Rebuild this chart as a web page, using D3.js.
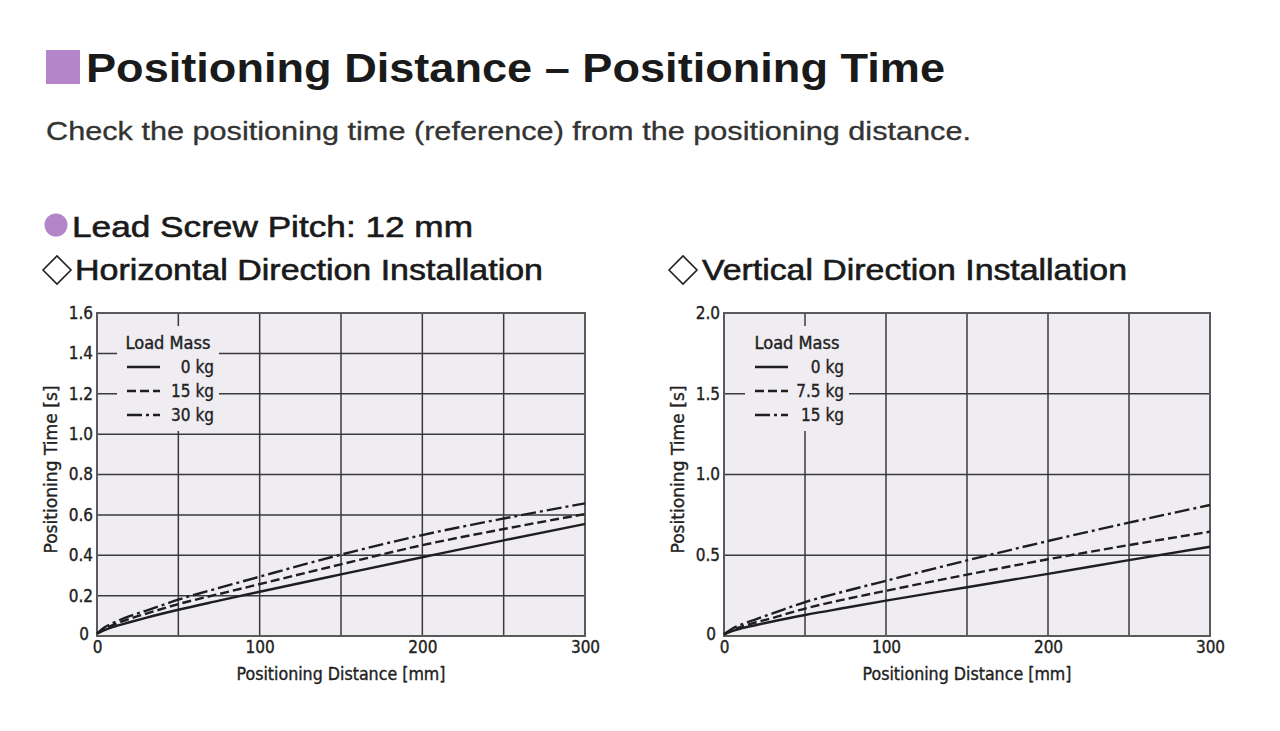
<!DOCTYPE html>
<html><head><meta charset="utf-8">
<script src="https://cdn.jsdelivr.net/npm/d3@7"></script>
<style>
body{margin:0;background:#fff;}
svg{display:block;}
.cond{font-family:"Liberation Sans Narrow","DejaVu Sans Condensed","Roboto Condensed",sans-serif;stroke:#222;stroke-width:0.35px;}
.main{font-family:"Liberation Sans",Arial,"Helvetica Neue",sans-serif;}
</style></head>
<body>
<svg id="chart" width="1280" height="731"></svg>
<script>
// ---- data ----
const distances = [0, 5, 10, 20, 30, 50, 75, 100, 150, 200, 250, 300];
const hLabels = ["0 kg", "15 kg", "30 kg"];
const h0  = [0.012, 0.030, 0.045, 0.068, 0.090, 0.130, 0.175, 0.219, 0.305, 0.390, 0.474, 0.555];
const h15 = [0.012, 0.038, 0.055, 0.085, 0.110, 0.158, 0.208, 0.257, 0.355, 0.450, 0.530, 0.604];
const h30 = [0.012, 0.045, 0.065, 0.098, 0.125, 0.180, 0.238, 0.294, 0.403, 0.500, 0.582, 0.657];
const vLabels = ["0 kg", "7.5 kg", "15 kg"];
const v0  = [0.010, 0.030, 0.045, 0.068, 0.090, 0.130, 0.175, 0.219, 0.302, 0.385, 0.470, 0.553];
const v75 = [0.010, 0.038, 0.055, 0.085, 0.112, 0.170, 0.228, 0.280, 0.380, 0.475, 0.563, 0.646];
const v15 = [0.010, 0.045, 0.068, 0.105, 0.140, 0.210, 0.278, 0.342, 0.468, 0.588, 0.702, 0.811];
const xTicks = [0, 100, 200, 300];
const xGrid = [50, 100, 150, 200, 250];
const hYTicks = [0, 0.2, 0.4, 0.6, 0.8, 1.0, 1.2, 1.4, 1.6];
const vYTicks = [0, 0.5, 1.0, 1.5, 2.0];

const svg = d3.select("#chart");
const purple = "#b485c8";

// ---- headings ----
svg.append("rect").attr("x",46).attr("y",50).attr("width",34).attr("height",34).attr("fill",purple);
svg.append("text").attr("class","main").attr("x",86).attr("y",82)
  .attr("font-size",41).attr("font-weight","bold").attr("fill","#1a1a1a")
  .attr("textLength",859).attr("lengthAdjust","spacingAndGlyphs")
  .text("Positioning Distance \u2013 Positioning Time");
svg.append("text").attr("class","main").attr("x",46).attr("y",140)
  .attr("font-size",25).attr("fill","#333").attr("stroke","#333").attr("stroke-width",0.3)
  .attr("textLength",925).attr("lengthAdjust","spacingAndGlyphs")
  .text("Check the positioning time (reference) from the positioning distance.");
svg.append("circle").attr("cx",56).attr("cy",225).attr("r",11.5).attr("fill",purple);
svg.append("text").attr("class","main").attr("x",72).attr("y",237)
  .attr("font-size",30).attr("fill","#1a1a1a").attr("stroke","#1a1a1a").attr("stroke-width",0.6)
  .attr("textLength",401).attr("lengthAdjust","spacingAndGlyphs")
  .text("Lead Screw Pitch: 12 mm");

function diamond(cx, cy){
  svg.append("path").attr("d",`M${cx-14},${cy} L${cx},${cy-14} L${cx+14},${cy} L${cx},${cy+14} Z`)
    .attr("fill","none").attr("stroke","#222").attr("stroke-width",1.6);
}
diamond(57,270);
svg.append("text").attr("class","main").attr("x",75).attr("y",280)
  .attr("font-size",29).attr("fill","#1a1a1a").attr("stroke","#1a1a1a").attr("stroke-width",0.6)
  .attr("textLength",468).attr("lengthAdjust","spacingAndGlyphs")
  .text("Horizontal Direction Installation");
diamond(683,270);
svg.append("text").attr("class","main").attr("x",702).attr("y",280)
  .attr("font-size",29).attr("fill","#1a1a1a").attr("stroke","#1a1a1a").attr("stroke-width",0.6)
  .attr("textLength",425).attr("lengthAdjust","spacingAndGlyphs")
  .text("Vertical Direction Installation");

// ---- chart builder ----
const dashes = [null, "9,4", "15,4,3,4"];

function drawChart(cfg){
  const g = svg.append("g");
  const x = d3.scaleLinear().domain([0,300]).range([cfg.x0, cfg.x1]);
  const y = d3.scaleLinear().domain([0,cfg.yMax]).range([cfg.y1, cfg.y0]);

  g.append("rect").attr("x",cfg.x0).attr("y",cfg.y0)
    .attr("width",cfg.x1-cfg.x0).attr("height",cfg.y1-cfg.y0).attr("fill","#efecf2");

  // grid
  const gridColor = "#3a3a3a";
  g.selectAll(".vg").data(xGrid).enter().append("line")
    .attr("x1",d=>x(d)).attr("x2",d=>x(d)).attr("y1",cfg.y0).attr("y2",cfg.y1)
    .attr("stroke",gridColor).attr("stroke-width",1.5);
  g.selectAll(".hg").data(cfg.yTicks.slice(1,-1)).enter().append("line")
    .attr("x1",cfg.x0).attr("x2",cfg.x1).attr("y1",d=>y(d)).attr("y2",d=>y(d))
    .attr("stroke",gridColor).attr("stroke-width",1.5);

  // legend box (covers grid)
  const lg = cfg.legend;
  g.append("rect").attr("x",lg.x).attr("y",lg.y).attr("width",lg.w).attr("height",lg.h)
    .attr("fill","#efecf2");

  // frame
  g.append("rect").attr("x",cfg.x0).attr("y",cfg.y0)
    .attr("width",cfg.x1-cfg.x0).attr("height",cfg.y1-cfg.y0)
    .attr("fill","none").attr("stroke","#5a5a5a").attr("stroke-width",2);

  // axes
  const xAxis = d3.axisBottom(x).tickValues(xTicks).tickSize(0).tickPadding(5).tickFormat(d3.format("d"));
  const ax = g.append("g").attr("transform",`translate(0,${cfg.y1})`).call(xAxis);
  ax.select(".domain").remove();
  ax.selectAll("text").attr("class","cond").attr("font-size",17).attr("fill","#222");

  const yAxis = d3.axisLeft(y).tickValues(cfg.yTicks).tickSize(0).tickPadding(4)
    .tickFormat(d => d===0 ? "0" : d.toFixed(1));
  const ay = g.append("g").attr("transform",`translate(${cfg.x0},0)`).call(yAxis);
  ay.select(".domain").remove();
  ay.selectAll("text").attr("class","cond").attr("font-size",17).attr("fill","#222");
  ay.selectAll(".tick").filter(d=>d===0).select("text").attr("dx",-4).attr("dy","0.2em");

  g.append("text").attr("class","cond").attr("x",(cfg.x0+cfg.x1)/2).attr("y",cfg.y1+44)
    .attr("text-anchor","middle").attr("font-size",17).attr("fill","#222")
    .attr("textLength",209).attr("lengthAdjust","spacingAndGlyphs")
    .text("Positioning Distance [mm]");
  g.append("text").attr("class","cond")
    .attr("transform",`translate(${cfg.x0-40},${(cfg.y0+cfg.y1)/2-5}) rotate(-90)`)
    .attr("text-anchor","middle").attr("font-size",17).attr("fill","#222")
    .attr("textLength",168).attr("lengthAdjust","spacingAndGlyphs")
    .text("Positioning Time [s]");

  // curves
  const line = d3.line().x(d=>x(d[0])).y(d=>y(d[1])).curve(d3.curveMonotoneX);
  cfg.series.forEach((s,i)=>{
    const pts = distances.map((dd,k)=>[dd,s[k]]);
    g.append("path").datum(pts).attr("d",line).attr("fill","none")
      .attr("stroke","#1e1e1e").attr("stroke-width",2.4)
      .attr("stroke-dasharray",dashes[i]);
  });

  // legend content
  g.append("text").attr("class","cond").attr("x",lg.x+lg.w/2).attr("y",lg.y+23)
    .attr("text-anchor","middle").attr("font-size",17).attr("fill","#222")
    .attr("textLength",85).attr("lengthAdjust","spacingAndGlyphs").text("Load Mass");
  cfg.labels.forEach((lab,i)=>{
    const yy = lg.y + 41 + i*24;
    g.append("line").attr("x1",lg.x+10).attr("x2",lg.x+43).attr("y1",yy).attr("y2",yy)
      .attr("stroke","#1e1e1e").attr("stroke-width",2.4).attr("stroke-dasharray",dashes[i]);
    g.append("text").attr("class","cond").attr("x",lg.x+lg.w-5).attr("y",yy+6)
      .attr("text-anchor","end").attr("font-size",17).attr("fill","#222").text(lab);
  });
}

drawChart({x0:97,x1:585,y0:313,y1:636,yMax:1.6,yTicks:hYTicks,
  series:[h0,h15,h30],labels:hLabels,
  legend:{x:117,y:326,w:102,h:105}});
drawChart({x0:724,x1:1210,y0:313,y1:636,yMax:2.0,yTicks:vYTicks,
  series:[v0,v75,v15],labels:vLabels,
  legend:{x:745,y:326,w:104,h:105}});
</script>
</body></html>
